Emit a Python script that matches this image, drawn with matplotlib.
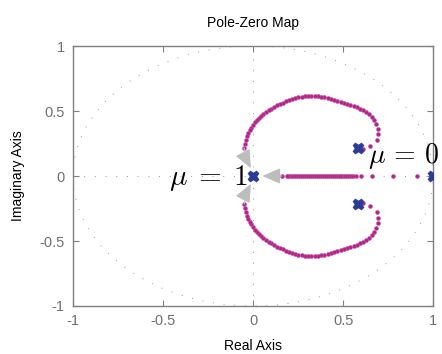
import numpy as np
import matplotlib
matplotlib.use("Agg")
import matplotlib.pyplot as plt

plt.rcParams['font.family'] = ['Liberation Sans', 'DejaVu Sans']
plt.rcParams['mathtext.fontset'] = 'cm'

# poles (mu = 0 and mu = 1 ends)
pole_re = [0.0, 1.0, 0.58, 0.58]
pole_im = [0.0, 0.0, 0.213, -0.213]

# real-axis branch (from 1 toward 0)
real_branch = [0.911, 0.778, 0.661, 0.600, 0.572, 0.556, 0.545, 0.535, 0.524, 0.513,
               0.502, 0.491, 0.480, 0.469, 0.458, 0.447, 0.436, 0.425, 0.414, 0.403,
               0.392, 0.381, 0.370, 0.359, 0.348, 0.337, 0.326, 0.315, 0.304, 0.293,
               0.282, 0.271, 0.260, 0.249, 0.238, 0.227, 0.216, 0.205, 0.194, 0.189, 0.161]

# complex branch (upper half; lower is its conjugate)
arc_re = [0.611, 0.650, 0.689, 0.694, 0.694, 0.683, 0.672, 0.661, 0.644,
          0.628, 0.611, 0.594, 0.576, 0.558, 0.540, 0.522, 0.504, 0.486, 0.468,
          0.450, 0.432, 0.414, 0.396, 0.378, 0.360, 0.342, 0.324, 0.306, 0.288,
          0.270, 0.252, 0.234, 0.216, 0.198, 0.181, 0.164, 0.148, 0.132, 0.116,
          0.101, 0.086, 0.072, 0.058, 0.045, 0.033, 0.021, 0.010, 0.000, -0.010,
          -0.019, -0.027, -0.034, -0.040, -0.045, -0.049]
arc_im = [0.205, 0.230, 0.277, 0.323, 0.362, 0.400, 0.430, 0.454, 0.477,
          0.492, 0.505, 0.517, 0.528, 0.538, 0.548, 0.556, 0.564, 0.572, 0.580,
          0.587, 0.594, 0.600, 0.605, 0.609, 0.612, 0.614, 0.615, 0.614, 0.612,
          0.609, 0.604, 0.598, 0.591, 0.583, 0.574, 0.564, 0.554, 0.543, 0.531,
          0.519, 0.506, 0.493, 0.478, 0.463, 0.447, 0.430, 0.412, 0.393, 0.373,
          0.352, 0.330, 0.305, 0.278, 0.248, 0.215]

fig = plt.figure(figsize=(4.42, 3.54), dpi=100)
ax = fig.add_axes([0.165, 0.1356, 0.815, 0.7344])

grey = '#9a9a9a'
dot_style = dict(color=grey, lw=0.7, dashes=(1, 10))
ax.axhline(0, **dot_style, zorder=1)
ax.axvline(0, **dot_style, zorder=1)
t = np.linspace(0, 2 * np.pi, 400)
ax.plot(np.cos(t), np.sin(t), **dot_style, zorder=1)

mag = '#b3218d'
mk = dict(ms=2.8, color=mag, mec='#c24f9f', mew=0.4, zorder=3, ls='none', marker='o')
arc_re = np.array(arc_re)
arc_im = np.array(arc_im)
ax.plot(arc_re, arc_im, **mk)
ax.plot(arc_re, -arc_im, **mk)
ax.plot(real_branch, np.zeros(len(real_branch)), **mk)

ax.plot(pole_re, pole_im, 'X', ms=7.5, color='#2d3b98', mec='#2d3b98', zorder=4)

arrow_kw = dict(arrowstyle='-|>,head_length=0.8,head_width=0.35', color='#bdbdbd',
                lw=0.9, mutation_scale=14, shrinkA=0, shrinkB=0)
ax.annotate('', xy=(-0.012, 0.06), xytext=(-0.049, 0.215),
            arrowprops=dict(**arrow_kw, connectionstyle='arc3,rad=0.08'), zorder=5)
ax.annotate('', xy=(-0.012, -0.06), xytext=(-0.049, -0.215),
            arrowprops=dict(**arrow_kw, connectionstyle='arc3,rad=-0.08'), zorder=5)
ax.annotate('', xy=(0.052, 0.0), xytext=(0.16, 0.0),
            arrowprops=dict(**arrow_kw), zorder=5)

ax.text(-0.028, -0.068, r'$\mu\;=\;1$', fontsize=21, ha='right', va='baseline', zorder=6)
ax.text(0.64, 0.10, r'$\mu\,=\,0$', fontsize=20, ha='left', va='baseline', zorder=6,
        clip_on=False)

ax.set_xlim(-1, 1)
ax.set_ylim(-1, 1)
ax.set_xticks([-1, -0.5, 0, 0.5, 1])
ax.set_yticks([-1, -0.5, 0, 0.5, 1])
ax.set_xticklabels(['-1', '-0.5', '0', '0.5', '1'])
ax.set_yticklabels(['-1', '-0.5', '0', '0.5', '1'])
ax.tick_params(direction='in', length=4, width=0.8, color='#808080',
               labelcolor='#707070', labelsize=10.5, top=True, right=True, pad=6)
for s in ax.spines.values():
    s.set_color('#808080')
    s.set_linewidth(1.0)

ax.set_title('Pole-Zero Map', fontsize=10, pad=14)
ax.set_xlabel('Real Axis', fontsize=10, labelpad=8)
ax.set_ylabel('Imaginary Axis', fontsize=10, labelpad=10)

fig.savefig('out.png', dpi=100)
